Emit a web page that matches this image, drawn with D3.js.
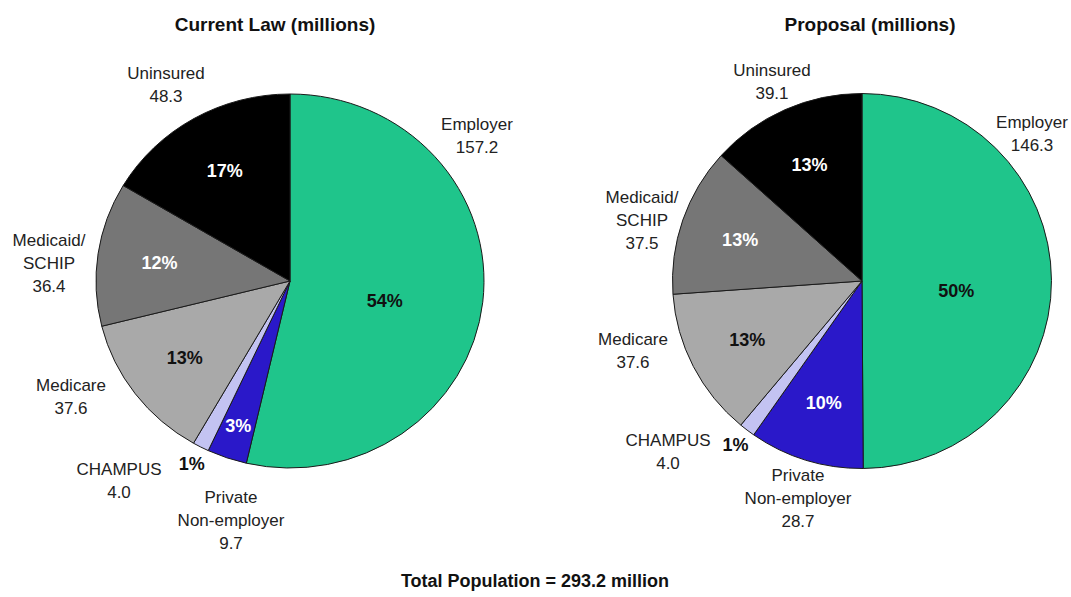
<!DOCTYPE html>
<html>
<head>
<meta charset="utf-8">
<script src="https://cdn.jsdelivr.net/npm/d3@7"></script>
<style>
  body { margin: 0; background: #fff; }
  svg { display: block; font-family: "Liberation Sans", Arial, sans-serif; }
</style>
</head>
<body>
<div class="chart"></div>
<script>
//data
var categories = ['Employer', 'Private\nNon-employer', 'CHAMPUS', 'Medicare', 'Medicaid/\nSCHIP', 'Uninsured'];
var currentLaw = [157.2, 9.7, 4.0, 37.6, 36.4, 48.3];
var proposal = [146.3, 28.7, 4.0, 37.6, 37.5, 39.1];
var currentPct = ['54%', '3%', '1%', '13%', '12%', '17%'];
var proposalPct = ['50%', '10%', '1%', '13%', '13%', '13%'];
var totalLabel = 'Total Population = 293.2 million';

//styles
var colors = ['#1fc58b', '#2a18c9', '#c3c3f2', '#a9a9a9', '#767676', '#000000'];
var pctColors = ['#111', '#fff', '#111', '#111', '#fff', '#fff'];

//canvas
var canvasSize = {'x' : 1071, 'y' : 597};
var svg = d3.select('.chart')
  .append('svg')
    .attr('width', canvasSize.x)
    .attr('height', canvasSize.y);

//layout of each pie: center, radii and category label anchors
var pies = [
  {
    title: 'Current Law (millions)', titleX: 275,
    values: currentLaw, pct: currentPct,
    cx: 290, cy: 281, rx: 194, ry: 187,
    labels: [[477, 130], [231, 503], [119, 475], [71, 391], [49, 246], [166, 79]]
  },
  {
    title: 'Proposal (millions)', titleX: 870,
    values: proposal, pct: proposalPct,
    cx: 862, cy: 281, rx: 189.5, ry: 187.5,
    labels: [[1032, 128], [798, 481], [668, 446], [633, 345], [642, 203], [772, 76]]
  }
];

var pie = d3.pie().sort(null).value(function(d){ return d.value; });

//draw one pie
var drawPie = function(p){
  var data = categories.map(function(c, i){
    return {name: c, value: p.values[i], pct: p.pct[i], i: i};
  });
  var arcs = pie(data);
  var total = d3.sum(p.values);
  var sx = p.rx / p.ry;
  var arc = d3.arc().innerRadius(0).outerRadius(p.ry);

  var g = svg.append('g')
    .attr('transform', 'translate(' + p.cx + ',' + p.cy + ')');

  //slices (stretched a bit to match the ellipse)
  g.append('g')
    .attr('transform', 'scale(' + sx + ',1)')
    .selectAll('path')
    .data(arcs)
    .enter()
    .append('path')
      .attr('d', arc)
      .attr('fill', function(d){ return colors[d.data.i]; })
      .attr('stroke', '#1a1a1a')
      .attr('stroke-width', 1)
      .attr('vector-effect', 'non-scaling-stroke');

  //percent labels
  g.selectAll('.pct')
    .data(arcs)
    .enter()
    .append('text')
      .attr('class', 'pct')
      .attr('text-anchor', 'middle')
      .attr('dy', '0.36em')
      .attr('font-weight', 'bold')
      .attr('font-size', 18)
      .attr('fill', function(d){ return pctColors[d.data.i]; })
      .attr('transform', function(d){
        var share = d.data.value / total;
        var k = share > 0.4 ? 0.5 : share < 0.02 ? 1.1 : share < 0.05 ? 0.82 : 0.68;
        var a = (d.startAngle + d.endAngle) / 2;
        //big slice label sits a little lower
        if(share > 0.4) a += 0.1;
        var x = Math.sin(a) * p.ry * k * sx;
        var y = -Math.cos(a) * p.ry * k;
        return 'translate(' + x + ',' + y + ')';
      })
      .text(function(d){ return d.data.pct; });

  //category labels
  data.forEach(function(d){
    var lines = d.name.split('\n').concat([d.value.toFixed(1)]);
    var pos = p.labels[d.i];
    var t = svg.append('text')
      .attr('text-anchor', 'middle')
      .attr('font-size', 17)
      .attr('fill', '#222');
    lines.forEach(function(line, j){
      t.append('tspan')
        .attr('x', pos[0])
        .attr('y', pos[1] + j * 23)
        .text(line);
    });
  });

  //title
  svg.append('text')
    .attr('x', p.titleX)
    .attr('y', 31)
    .attr('text-anchor', 'middle')
    .attr('font-weight', 'bold')
    .attr('font-size', 19)
    .attr('fill', '#111')
    .text(p.title);
};

pies.forEach(drawPie);

//footer
svg.append('text')
  .attr('x', 535)
  .attr('y', 587)
  .attr('text-anchor', 'middle')
  .attr('font-weight', 'bold')
  .attr('font-size', 18)
  .attr('fill', '#111')
  .text(totalLabel);
</script>
</body>
</html>
